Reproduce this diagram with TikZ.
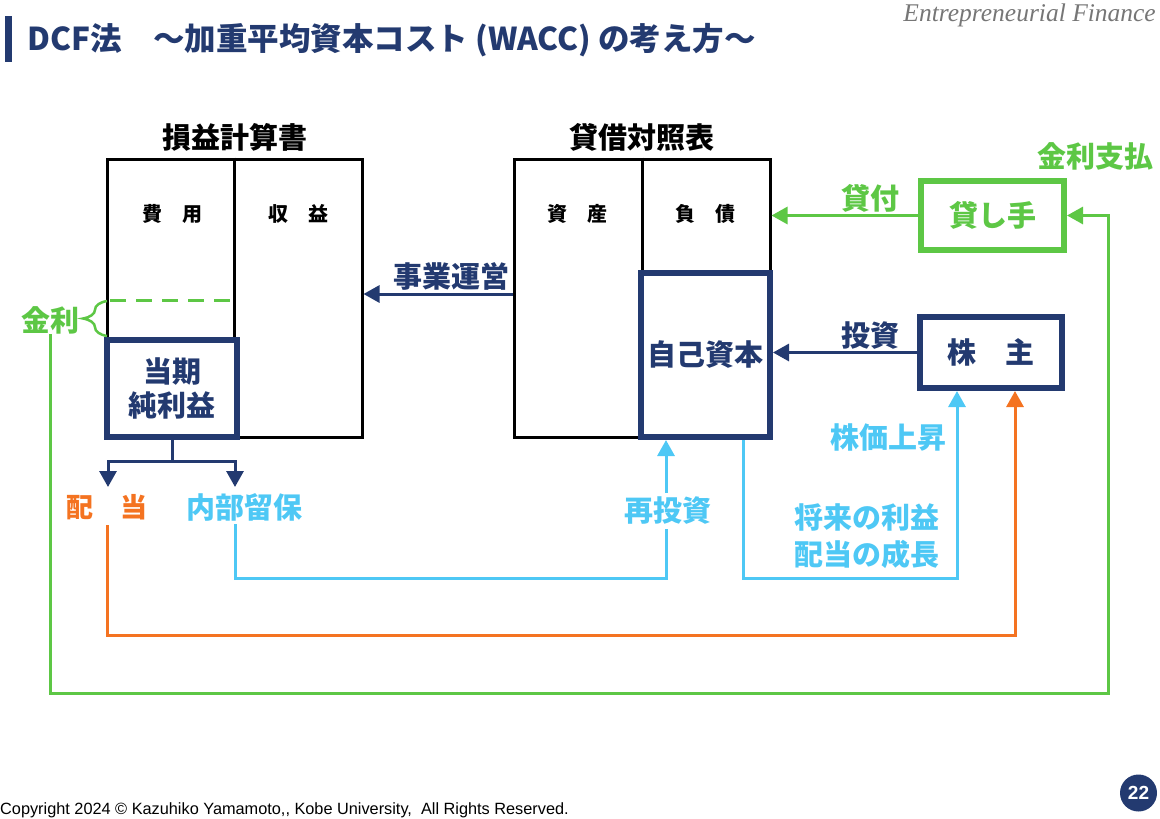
\documentclass[tikz,border=0pt]{standalone}
\usepackage{fontspec}
\newfontfamily\jp{Noto Sans CJK JP}
\newfontfamily\arial{Liberation Sans}
\newfontfamily\tnr{Liberation Serif}
\usetikzlibrary{arrows.meta,decorations.pathreplacing,calc}
\definecolor{navy}{RGB}{35,58,112}
\definecolor{lgreen}{RGB}{93,199,69}
\definecolor{orng}{RGB}{244,115,33}
\definecolor{cyn}{RGB}{78,200,245}
\definecolor{gry}{RGB}{118,118,118}
\begin{document}
\begin{tikzpicture}[x=1pt,y=-1pt,
 tip/.style={-{Triangle[length=16pt,width=17pt]}},
 tbl/.style={draw=black,line width=3pt,inner sep=0pt},
 nbox/.style={draw=navy,line width=6pt,inner sep=0pt,fill=white},
 gbox/.style={draw=lgreen,line width=6pt,inner sep=0pt,fill=white},
 conn/.style={line width=3pt},
 lbl/.style={font=\jp\bfseries\fontsize{29}{34}\selectfont, inner sep=0pt},
 small/.style={font=\jp\bfseries\fontsize{20}{24}\selectfont, inner sep=0pt}]
\useasboundingbox (0,0) rectangle (1160,819);

% header
\fill[navy] (5,16) rectangle (12,62);
\node[anchor=west, inner sep=0pt, text=navy, font=\jp\bfseries\fontsize{31.5}{36}\selectfont] (title) at (27,40) {DCF法　～加重平均資本コスト (WACC) の考え方～};
\node[anchor=base east, inner sep=0pt, text=gry, font=\tnr\itshape\fontsize{25.5}{28}\selectfont] (brand) at (1156,21) {Entrepreneurial Finance};

% income statement
\node[lbl] (plh) at (235,137) {損益計算書};
\node[tbl, minimum width=255pt, minimum height=278pt] (plt) at (234.5,298) {};
\node[nbox, minimum width=130pt, minimum height=97pt, text=navy, lbl, align=center] (ni) at (172,388.5) {当期\\純利益};
\draw[tbl] (plt.north) -- (plt.north |- ni.north);
\node[small] (hiyo) at (172,214) {費　用};
\node[small] (shueki) at (298,214) {収　益};
\draw[lgreen, line width=3pt, dash pattern=on 16pt off 10pt] (110,300) -- (232,300);
\draw[lgreen, line width=2.5pt, decorate, decoration={brace, amplitude=24pt}] (107,336) -- (107,301);
\node[lbl, text=lgreen] (kinri) at (50,320) {金利};

% balance sheet
\node[lbl] (bsh) at (642,137) {貸借対照表};
\node[tbl, minimum width=256pt, minimum height=278pt] (bs) at (642,298) {};
\draw[tbl] (bs.north) -- (bs.south);
\node[nbox, minimum width=129pt, minimum height=164pt, text=navy, lbl] (eq) at (705.5,355) {自己資本};
\node[small] (shisan) at (577,214) {資　産};
\node[small] (fusai) at (705,214) {負　債};

% lender and shareholder
\node[gbox, minimum width=143pt, minimum height=69pt, text=lgreen, lbl] (ld) at (992.5,215.5) {貸し手};
\node[nbox, minimum width=142pt, minimum height=71pt, text=navy, lbl] (sh) at (991,352.5) {株　主};
\node[lbl, text=lgreen] (kinshi) at (1095,156) {金利支払};

% arrows between tables
\draw[conn, navy, tip] (bs.west |- 0,294) -- (plt.east |- 0,294);
\node[lbl, text=navy] (jigyo) at (451,276) {事業運営};
\draw[conn, lgreen, tip] (ld.west) -- (ld.west -| bs.east);
\node[lbl, text=lgreen] (kashi) at (870,198) {貸付};
\draw[conn, navy, tip] (sh.west) -- (sh.west -| eq.east);
\node[lbl, text=navy] (toshi) at (870,336) {投資};

% profit split
\node[lbl, text=orng, font=\jp\bfseries\fontsize{27}{30}\selectfont] (hd) at (106.5,507) {配　当};
\node[lbl, text=cyn] (nb) at (244.5,507) {内部留保};
\draw[conn, navy] (ni.south) -- ++(0,21) coordinate (sp);
\draw[conn, navy, tip] (sp) -| (108,487);
\draw[conn, navy, tip] (sp) -| (235,487);

% dividend flow
\draw[conn, orng, tip, shorten <=5pt] (hd.south -| 107,0) -- (107,635) -- (1015,635) -- (sh.south -| 1015,0);

% reinvestment
\draw[conn, cyn, tip, shorten <=3pt] (nb.south -| 235,0) -- (235,578) -- (666,578) -- (eq.south -| 666,0);
\node[lbl, text=cyn, fill=white, inner sep=4pt] (ri) at (668,511) {再投資};

% share price
\draw[conn, cyn, tip] (eq.south -| 743,0) -- (743,578) -- (957,578) -- (sh.south -| 957,0);
\node[lbl, text=cyn] (kabuka) at (888,437) {株価上昇};
\node[lbl, text=cyn, align=center, font=\jp\bfseries\fontsize{29}{37}\selectfont] (shorai) at (867,536) {将来の利益\\配当の成長};

% interest flow
\draw[conn, lgreen, tip] (kinri.south) -- (50,693) -- (1108,693) -- (ld.east -| 1108,0) -- (ld.east);

% footer
\node[anchor=west, inner sep=0pt, font=\arial\fontsize{16.3}{18}\selectfont] (copy) at (0,810) {Copyright 2024 © Kazuhiko Yamamoto,, Kobe University,\ \ All Rights Reserved.};
\node[circle, fill=navy, minimum size=37pt, inner sep=0pt, text=white, font=\arial\bfseries\fontsize{19}{20}\selectfont] (pg) at (1138.5,793) {22};
\end{tikzpicture}
\end{document}
